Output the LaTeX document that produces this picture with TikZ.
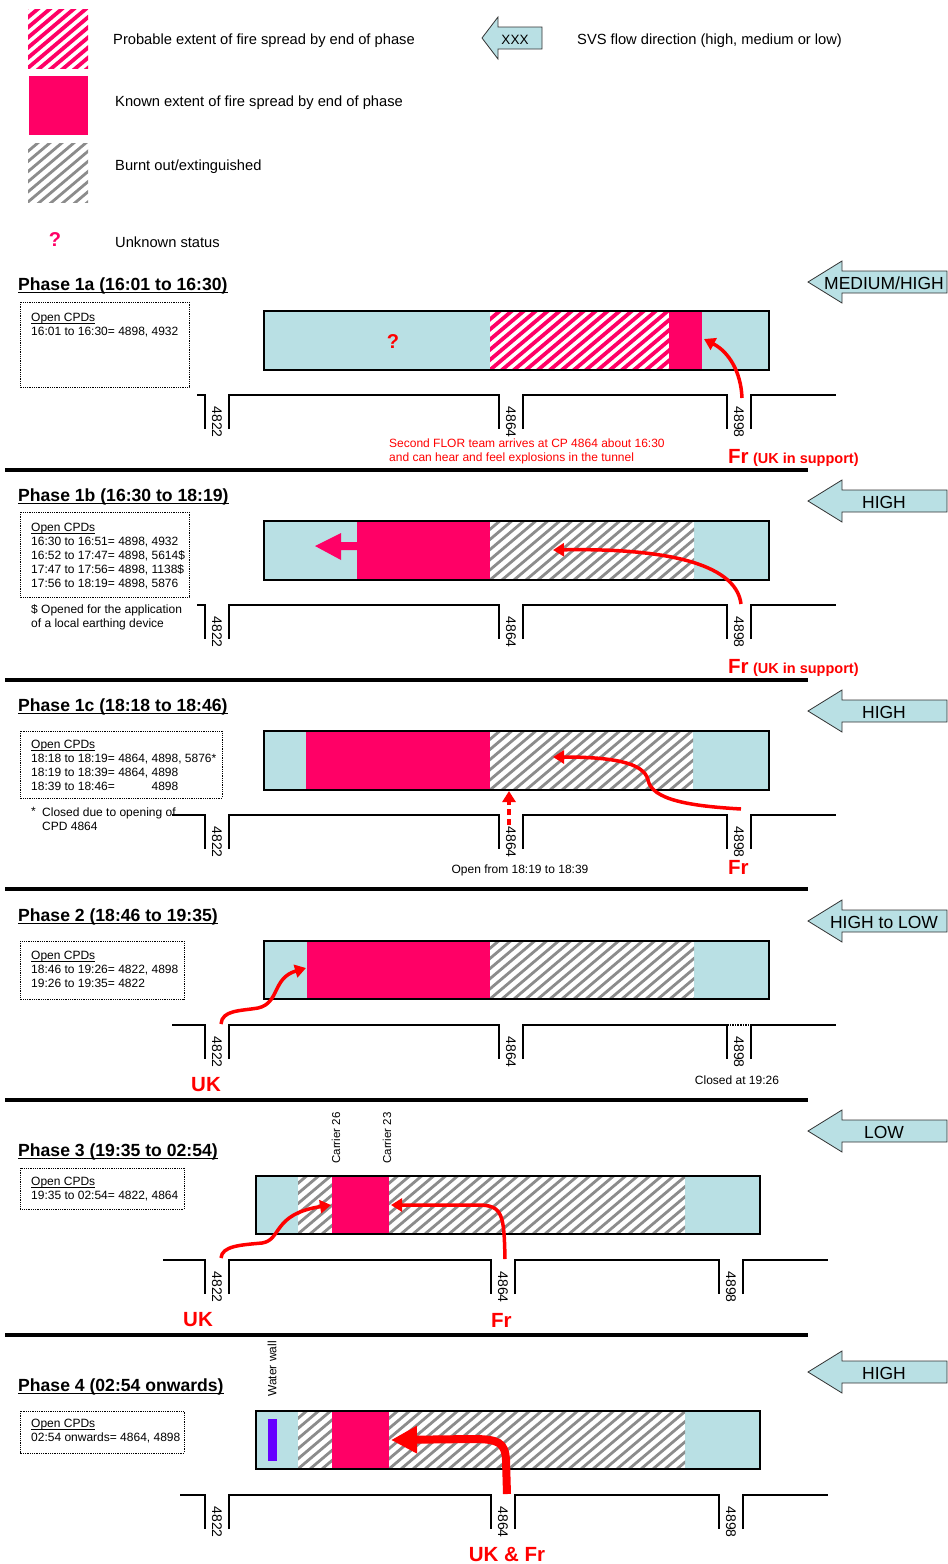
\documentclass[tikz,border=0pt]{standalone}
\usepackage{fontspec}
\setmainfont{Liberation Sans}
\usetikzlibrary{positioning,arrows.meta}

\definecolor{firepink}{RGB}{255,0,102}
\definecolor{tunnelblue}{RGB}{185,224,228}
\definecolor{wallviolet}{RGB}{102,0,255}

\newcommand{\legfont}{\fontsize{14.7}{17}\selectfont}
\newcommand{\boxfont}{\fontsize{12}{14}\selectfont}
\newcommand{\titlefont}{\fontsize{17.6}{21}\selectfont\bfseries}
\newcommand{\crewfont}{\fontsize{20.5}{24}\selectfont\bfseries}
\newcommand{\svsfont}{\fontsize{17.5}{21}\selectfont}
\newcommand{\cpfont}{\fontsize{14}{17}\selectfont}
\newcommand{\ulx}[2][1.3pt]{\setbox0=\hbox{#2}\rlap{\rule[-2.8pt]{\wd0}{#1}}\box0}

% diagonal stripes clipped to a rectangle
\newcommand{\hatchrect}[5]{%
  \begin{scope}
    \clip (#1,#2) rectangle (#3,#4);
    \fill[white] (#1,#2) rectangle (#3,#4);
    \foreach \hk in {0,...,36}
      \draw[#5] ({#1-90+12*\hk},{#4+5}) -- ++(90,-76);
  \end{scope}}

% ground line with the three shafts 4822, 4864, 4898
\newcommand{\groundline}[7]{%
  \draw[ground] (#3,#2) -- (#5,#2) -- (#5,#2+34);
  \draw[ground] (#5+24,#2+34) -- (#5+24,#2) -- (#6,#2) -- (#6,#2+34);
  \draw[ground] (#6+24,#2+34) -- (#6+24,#2) -- (#7,#2) -- (#7,#2+34);
  \draw[ground] (#7+24,#2+34) -- (#7+24,#2) -- (#4,#2);
  \node[cplabel] (#1a) at (#5+12,#2+27) {4822};
  \node[cplabel] (#1b) at (#6+12,#2+27) {4864};
  \node[cplabel] (#1c) at (#7+12,#2+27) {4898};}

% SVS flow arrow
\newcommand{\svsarrow}[3]{%
  \draw[svs] (808,#2) -- (842,#2-21) -- (842,#2-11) -- (947,#2-11) -- (947,#2+11) -- (842,#2+11) -- (842,#2+21) -- cycle;
  \node[svstext] (#1) at (884,#2+1) {#3};}

\begin{document}
\begin{tikzpicture}[x=1pt,y=-1pt]
\tikzset{
  tunnel/.style={draw=black, line width=1.2pt},
  ground/.style={line width=1.6pt},
  sepline/.style={line width=3.5pt},
  cpdbox/.style={draw, densely dotted, line width=0.8pt},
  boxtext/.style={anchor=west, align=left, inner sep=0pt, font=\boxfont},
  legtext/.style={anchor=west, inner sep=0pt, font=\legfont},
  title/.style={anchor=west, inner sep=0pt, font=\titlefont},
  cplabel/.style={rotate=-90, inner sep=0pt, font=\cpfont},
  svs/.style={fill=tunnelblue, draw=black!80, line width=0.8pt},
  svstext/.style={inner sep=0pt, font=\svsfont},
  crew/.style={text=red, inner sep=0pt, font=\crewfont},
  support/.style={text=red, inner sep=0pt, font=\fontsize{14.5}{17}\selectfont\bfseries},
  redarr/.style={draw=red, line width=3.5pt, -{Triangle[length=11pt,width=13pt]}},
  bigarr/.style={draw=red, line width=8pt, -{Triangle[length=26pt,width=26pt]}},
  pinkhatch/.style={draw=firepink, line width=3.8pt},
  grayhatch/.style={draw=black!45, line width=2.8pt}
}
\useasboundingbox (0,0) rectangle (948,1564);

% Legend
\hatchrect{28}{9}{88}{68}{pinkhatch}
\fill[firepink] (29,76) rectangle (88,135);
\hatchrect{28}{143}{88}{202}{grayhatch}
\node[text=firepink, inner sep=0pt, font=\fontsize{20}{24}\selectfont\bfseries] (legq) at (55,240) {?};
\node[legtext] (legprob) at (113,41) {Probable extent of fire spread by end of phase};
\node[legtext] (legknown) at (115,103) {Known extent of fire spread by end of phase};
\node[legtext] (legburnt) at (115,167) {Burnt out/extinguished};
\node[legtext] (legunk) at (115,242) {Unknown status};
\draw[svs] (482,38) -- (498,17) -- (498,27) -- (542,27) -- (542,49) -- (498,49) -- (498,59) -- cycle;
\node[inner sep=0pt, font=\fontsize{13.5}{16}\selectfont] (legxxx) at (515,40) {XXX};
\node[legtext] (legsvs) at (577,41) {SVS flow direction (high, medium or low)};

% Separators
\foreach \sy in {470,680,889,1100,1335}
  \draw[sepline] (5,\sy) -- (808,\sy);

% Phase 1a
\node[title] (t1a) at (18,286) {\ulx{Phase 1a (16:01 to 16:30)}};
\svsarrow{svs1a}{282}{MEDIUM/HIGH}
\draw[cpdbox] (20,302) rectangle (189,387);
\node[boxtext] (cpd1a) at (31,325) {\ulx[0.8pt]{Open CPDs}\\16:01 to 16:30= 4898, 4932};
\fill[tunnelblue] (264,311) rectangle (769,370);
\hatchrect{490}{311}{669}{370}{pinkhatch}
\fill[firepink] (669,311) rectangle (702,370);
\draw[tunnel] (264,311) rectangle (769,370);
\node[text=red, inner sep=0pt, font=\fontsize{20}{24}\selectfont\bfseries] (q1a) at (393,342) {?};
\groundline{g1a}{395}{197}{836}{205}{499}{727}
\coordinate (fr1a-s) at (742,398);
\coordinate (fr1a-e) at (704,339);
\draw[redarr] (fr1a-s) .. controls (741,372) and (729,352) .. (fr1a-e);
\node[text=red, anchor=west, align=left, inner sep=0pt, font=\boxfont] (flor) at (389,451)
  {Second FLOR team arrives at CP 4864 about 16:30\\and can hear and feel explosions in the tunnel};
\node[crew, anchor=west] (fr1a) at (728,456) {Fr};
\node[support, base right=4pt of fr1a] (sup1a) {(UK in support)};

% Phase 1b
\node[title] (t1b) at (18,497) {\ulx{Phase 1b (16:30 to 18:19)}};
\svsarrow{svs1b}{501}{HIGH}
\draw[cpdbox] (20,512) rectangle (189,597);
\node[boxtext] (cpd1b) at (31,556) {\ulx[0.8pt]{Open CPDs}\\16:30 to 16:51= 4898, 4932\\16:52 to 17:47= 4898, 5614\$\\17:47 to 17:56= 4898, 1138\$\\17:56 to 18:19= 4898, 5876};
\node[boxtext] (note1b) at (31,617) {\$ Opened for the application\\of a local earthing device};
\fill[tunnelblue] (264,521) rectangle (769,580);
\fill[firepink] (357,521) rectangle (490,580);
\hatchrect{490}{521}{694}{580}{grayhatch}
\draw[tunnel] (264,521) rectangle (769,580);
\fill[firepink] (315,546) -- (341,533) -- (341,542) -- (358,542) -- (358,550) -- (341,550) -- (341,560) -- cycle;
\groundline{g1b}{605}{197}{836}{205}{499}{727}
\coordinate (fr1b-s) at (741,604);
\coordinate (fr1b-e) at (553,550);
\draw[redarr] (fr1b-s) .. controls (736,562) and (660,548) .. (fr1b-e);
\node[crew, anchor=west] (fr1b) at (728,666) {Fr};
\node[support, base right=4pt of fr1b] (sup1b) {(UK in support)};

% Phase 1c
\node[title] (t1c) at (18,707) {\ulx{Phase 1c (18:18 to 18:46)}};
\svsarrow{svs1c}{711}{HIGH}
\draw[cpdbox] (20,731) rectangle (222,798);
\node[boxtext] (cpd1c) at (31,766) {\ulx[0.8pt]{Open CPDs}\\18:18 to 18:19= 4864, 4898, 5876*\\18:19 to 18:39= 4864, 4898\\18:39 to 18:46= \phantom{4864, }4898};
\node[boxtext] (star1c) at (31,811) {*};
\node[boxtext] (note1c) at (42,819) {Closed due to opening of\\CPD 4864};
\fill[tunnelblue] (264,731) rectangle (769,790);
\fill[firepink] (306,731) rectangle (490,790);
\hatchrect{490}{731}{693}{790}{grayhatch}
\draw[tunnel] (264,731) rectangle (769,790);
\groundline{g1c}{815}{172}{836}{205}{499}{727}
\coordinate (fr1c-s) at (741,809);
\coordinate (fr1c-e) at (553,757);
\draw[redarr] (fr1c-s) .. controls (690,806) and (652,800) .. (648,780) .. controls (644,762) and (610,757) .. (fr1c-e);
\coordinate (cp1c-s) at (509,825);
\coordinate (cp1c-e) at (509,791);
\draw[redarr, dash pattern=on 6pt off 4pt] (cp1c-s) -- (cp1c-e);
\node[inner sep=0pt, font=\boxfont] (open1c) at (520,870) {Open from 18:19 to 18:39};
\node[crew, anchor=west] (fr1c) at (728,867) {Fr};

% Phase 2
\node[title] (t2) at (18,917) {\ulx{Phase 2 (18:46 to 19:35)}};
\svsarrow{svs2}{921}{HIGH to LOW}
\draw[cpdbox] (20,941) rectangle (184,999);
\node[boxtext] (cpd2) at (31,969) {\ulx[0.8pt]{Open CPDs}\\18:46 to 19:26= 4822, 4898\\19:26 to 19:35= 4822};
\fill[tunnelblue] (264,941) rectangle (769,999);
\fill[firepink] (307,941) rectangle (490,999);
\hatchrect{490}{941}{694}{999}{grayhatch}
\draw[tunnel] (264,941) rectangle (769,999);
\groundline{g2}{1025}{172}{836}{205}{499}{727}
\draw[ground, densely dotted] (727,1025) -- (751,1025);
\coordinate (uk2-s) at (221,1024);
\coordinate (uk2-e) at (306,968);
\draw[redarr] (uk2-s) .. controls (222,1010) and (240,1011) .. (258,1008) .. controls (280,1003) and (272,978) .. (uk2-e);
\node[crew, anchor=west] (uk2) at (191,1085) {UK};
\node[inner sep=0pt, font=\boxfont] (closed2) at (737,1080) {Closed at 19:26};

% Phase 3
\node[title] (t3) at (18,1152) {\ulx{Phase 3 (19:35 to 02:54)}};
\svsarrow{svs3}{1131}{LOW}
\node[rotate=90, inner sep=0pt, font=\fontsize{11.5}{14}\selectfont] (car26) at (336,1138) {Carrier 26};
\node[rotate=90, inner sep=0pt, font=\fontsize{11.5}{14}\selectfont] (car23) at (387,1138) {Carrier 23};
\draw[cpdbox] (20,1168) rectangle (184,1209);
\node[boxtext] (cpd3) at (31,1189) {\ulx[0.8pt]{Open CPDs}\\19:35 to 02:54= 4822, 4864};
\fill[tunnelblue] (256,1176) rectangle (760,1234);
\hatchrect{298}{1176}{332}{1234}{grayhatch}
\fill[firepink] (332,1176) rectangle (389,1234);
\hatchrect{389}{1176}{685}{1234}{grayhatch}
\draw[tunnel] (256,1176) rectangle (760,1234);
\groundline{g3}{1260}{163}{828}{205}{491}{719}
\coordinate (uk3-s) at (221,1258);
\coordinate (uk3-e) at (331,1205);
\draw[redarr] (uk3-s) .. controls (222,1246) and (240,1245) .. (262,1243) .. controls (282,1240) and (272,1214) .. (uk3-e);
\coordinate (fr3-s) at (505,1259);
\coordinate (fr3-e) at (391,1205);
\draw[redarr] (fr3-s) .. controls (504,1215) and (503,1205) .. (478,1205) -- (fr3-e);
\node[crew, anchor=west] (uk3) at (183,1320) {UK};
\node[crew, anchor=west] (fr3) at (491,1320) {Fr};

% Phase 4
\node[title] (t4) at (18,1387) {\ulx{Phase 4 (02:54 onwards)}};
\svsarrow{svs4}{1372}{HIGH}
\node[rotate=90, inner sep=0pt, font=\fontsize{12}{14}\selectfont] (wall4) at (272,1369) {Water wall};
\draw[cpdbox] (20,1411) rectangle (184,1453);
\node[boxtext] (cpd4) at (31,1431) {\ulx[0.8pt]{Open CPDs}\\02:54 onwards= 4864, 4898};
\fill[tunnelblue] (256,1411) rectangle (760,1469);
\hatchrect{298}{1411}{332}{1469}{grayhatch}
\fill[firepink] (332,1411) rectangle (389,1469);
\hatchrect{389}{1411}{685}{1469}{grayhatch}
\fill[wallviolet] (268,1419) rectangle (277,1461);
\draw[tunnel] (256,1411) rectangle (760,1469);
\groundline{g4}{1495}{180}{828}{205}{491}{719}
\coordinate (ukfr4-s) at (507,1494);
\coordinate (ukfr4-e) at (391,1440);
\draw[bigarr] (ukfr4-s) -- (506,1460) .. controls (505,1442) and (498,1439) .. (472,1439) -- (ukfr4-e);
\node[crew] (ukfr4) at (507,1554) {UK \& Fr};
\end{tikzpicture}
\end{document}
